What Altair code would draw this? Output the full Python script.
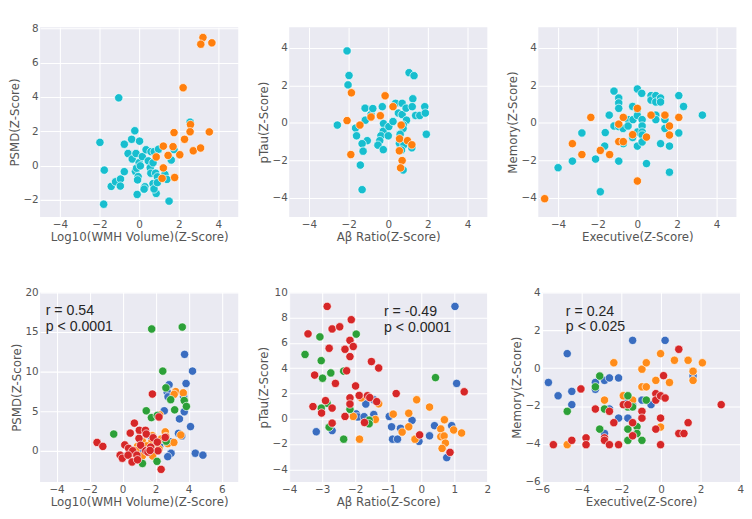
import altair as alt
import pandas as pd

# ---------------- Panel 1: Log10(WMH) vs PSMD ----------------
p1_cyan_x = [-1.03, -1.98, -1.76, -1.79, -1.41, -1.19, -0.94, -0.95, -0.75, -0.75, -0.56, -0.38, -0.35, -0.22,
             -0.16, -0.19, -0.13, 0.02, 0.0, 0.16, 0.06, -0.05, -0.08, -0.10, 0.29, 0.25, 0.35, 0.46, 0.56, 0.59,
             0.60, 0.70, 0.76, 0.83, 0.86, 0.70, 0.75, 0.92, 0.92, 0.98, 1.30, 1.40, 1.51, 1.62, 1.76, 2.57]
p1_cyan_y = [3.95, 1.35, -0.27, -2.26, -1.22, -0.95, -0.79, -1.20, 1.24, -0.36, 0.70, 1.53, 0.38, 2.03,
             0.70, -0.34, -0.16, 1.42, 0.16, 0.52, -0.02, -0.65, -0.84, -1.69, -1.24, -1.38, 0.92, 0.27, -0.13, -0.45,
             0.81, 0.16, 0.81, -0.45, -1.63, -1.06, -1.37, -0.66, -1.00, 0.95, -0.52, -0.81, -2.08, 0.32, 0.93, 2.53]
p1_orange_x = [3.22, 3.11, 3.67, 2.22, 1.76, 2.59, 2.57, 3.54, 2.29, 1.22, 1.71, 0.86, 1.46, 2.05, 2.73, 3.10,
               1.22, 1.79, 1.16]
p1_orange_y = [7.47, 7.08, 7.16, 4.54, 1.92, 2.39, 1.97, 1.96, 1.53, 1.13, 1.10, 0.50, 0.59, 0.63, 0.86, 1.02,
               -0.14, -0.70, -0.75]

# ---------------- Panel 2: Abeta vs pTau ----------------
p2_cyan_x = [-2.08, -1.98, -2.03, -2.57, -1.65, -1.60, -1.17, -1.16, -0.87, -0.78, -1.06, -1.32, -1.27, -1.41,
             -1.32, -0.30, -0.24, -0.25, -0.37, -0.43, -0.52, -0.25, 0.03, 0.00, 0.24, 0.37, 0.51, 0.70, 0.70,
             0.90, 0.92, 1.24, 1.21, 1.05, 1.30, 1.38, 1.59, 1.84, 1.87, 1.92, 0.76, 0.75, 0.60, 0.56, 0.79,
             0.67, 1.19, 0.75]
p2_cyan_y = [3.84, 2.53, 2.03, -0.11, -0.27, -0.68, 0.79, 0.15, 0.45, 0.77, -0.94, -1.10, -1.50, -2.24,
             -3.55, 0.87, -0.03, -0.44, -0.68, -0.94, -1.18, -1.42, -0.19, -0.68, 0.08, 1.05, 0.53, 1.05, 0.45,
             0.79, 0.15, 1.29, 0.87, 2.68, 2.52, 0.40, 0.40, 0.87, 0.53, -0.60, -0.11, -0.29, -0.60, -1.08, -1.16,
             -1.44, -1.32, -2.50]
p2_orange_x = [-1.86, -2.08, -1.43, -1.89, -0.87, -0.40, -0.16, 0.24, 0.65, 0.57, 0.56, 0.97, 1.19, 0.70, 0.62]
p2_orange_y = [1.61, 0.13, -0.11, -1.68, 0.32, 0.39, 1.45, 0.87, -0.11, -0.84, -1.48, -0.94, -1.16, -2.00, -2.39]

# ---------------- Panel 3: Executive vs Memory ----------------
p3_cyan_x = [-4.00, -3.28, -2.80, -2.11, -1.87, -1.65, -1.62, -1.42, -1.18, -1.18, -0.94, -0.94, -0.94, -0.94,
             -0.94, -0.72, -0.71, -0.47, -0.47, -0.24, -0.22, -0.24, 0.00, 0.00, 0.00, 0.00, 0.00, 0.22, 0.24,
             0.24, 0.24, 0.24, 0.24, 0.46, 0.69, 0.69, 0.93, 0.93, 0.93, 0.93, 1.17, 1.17, 1.17, 1.39, 1.39,
             1.62, 1.62, 2.09, 2.09, 2.33, 3.28]
p3_cyan_y = [-2.38, -2.03, -0.53, -1.92, -3.66, -1.23, -0.51, 0.42, 1.70, -0.16, 1.33, 1.07, 0.78, -0.19,
             -2.03, -0.29, -1.10, 0.18, -0.16, 0.88, 0.18, -0.77, 1.81, 0.72, 0.40, -0.48, -1.23, 1.58, 0.18,
             -0.16, -0.48, -0.64, -1.01, -2.16, 1.46, 1.22, 1.46, 1.12, 0.42, 0.18, 1.33, 1.12, -1.10, 0.18, -0.29,
             -1.23, -2.62, 1.46, -0.53, 0.88, 0.42]
p3_orange_x = [-4.68, -3.28, -2.80, -2.35, -1.87, -1.40, -0.94, -0.94, -0.71, -0.71, -0.24, 0.00, 0.00, 0.46,
               0.69, 1.39, 1.62, 1.62, 2.09]
p3_orange_y = [-4.03, -1.10, -1.68, 0.30, -1.46, -1.68, -0.06, -0.99, 0.30, -0.99, -0.62, 0.78, -3.09, -0.75,
               0.42, 0.42, -0.16, -0.64, 0.30]

# ---------------- Panel 4: Log10(WMH) vs PSMD, 4 groups ----------------
p4_blue_x = [3.75, 4.23, 2.81, 3.84, 2.70, 2.75, 3.69, 3.73, 2.52, 3.44, 4.11, 3.38, 3.58, 2.91, 2.24, 1.19,
             1.76, 2.93, 2.73, 4.40, 4.86, 0.52]
p4_blue_y = [12.19, 10.08, 8.36, 8.52, 7.42, 6.84, 6.91, 4.96, 5.08, 4.06, 3.09, 2.23, 1.91, 1.17, 0.59, 0.16,
             1.64, -0.27, -0.70, -0.27, -0.51, -0.12]
p4_orange_x = [3.21, 3.12, 3.67, 2.24, 2.58, 1.80, 2.62, 3.52, 2.33, 1.20, 1.76, 0.90, 1.47, 2.01, 2.73, 3.10,
               2.20, 1.19, 1.82, 0.46, 0.80]
p4_orange_y = [7.50, 7.15, 7.34, 4.57, 2.42, 1.95, 1.84, 2.03, 1.52, 1.21, 1.13, 0.59, 0.66, 0.74, 0.94, 1.09,
               0.27, -0.62, -0.62, -0.35, 0.08]
p4_green_x = [1.76, 3.61, 2.43, 2.62, 2.91, 3.73, 3.86, 3.15, 1.43, 1.74, 2.10, -0.54, 1.20, 2.08, 2.64]
p4_green_y = [15.39, 15.63, 10.08, 7.97, 6.48, 6.37, 5.63, 5.20, 5.08, 4.22, 4.49, 2.15, -1.56, -1.29, 1.25]
p4_red_x = [1.80, 2.20, 0.71, 1.01, 0.46, 1.38, 1.43, 0.99, 1.85, 2.58, -1.55, -1.20, 0.13, 0.36, 0.61, 1.09,
            1.40, 1.70, 2.10, 2.14, -0.15, -0.02, 0.33, 0.57, 0.86, 0.90, 1.53, 2.33, 1.66]
p4_red_y = [7.19, 4.30, 3.52, 2.62, 2.27, 2.62, 2.15, 1.60, 1.68, 1.72, 1.09, 0.59, 0.78, 0.35, 0.04, 0.74,
            0.04, 0.51, 1.13, 0.04, -0.51, -0.90, -0.51, -1.37, -0.51, -1.09, -0.12, -2.30, 0.08]

# ---------------- Panel 5: Abeta vs pTau, 4 groups ----------------
p5_blue_x = [-3.18, -2.70, -1.97, -1.92, -1.73, -1.68, -1.44, -1.44, -0.97, -0.90, -0.87, -0.72, -0.63, -0.28,
             -0.07, 0.25, 0.40, 0.92, 0.77, 1.02, 1.07]
p5_blue_y = [-1.02, -0.93, 0.39, 0.15, 0.17, 1.17, 1.51, 0.34, 0.19, -0.63, -1.61, -1.61, -0.75, -0.12,
             -1.78, -1.34, -0.54, -0.54, -3.07, 8.89, 2.80]
p5_orange_x = [-1.82, -1.29, -1.39, -1.87, -2.06, -0.85, -0.38, -0.14, 0.25, -0.38, -0.58, -0.19, 0.70, 0.59,
               0.98, 1.22, 0.59, 0.69, 0.73, 0.63]
p5_orange_y = [1.66, 1.19, -0.05, -1.61, 0.19, 0.37, 0.44, 1.51, 0.93, -0.63, -1.05, -1.61, -0.07, -0.80,
               -0.88, -1.12, -1.41, -1.36, -1.92, -2.34]
p5_green_x = [-3.52, -3.07, -1.97, -3.03, -2.74, -2.99, -2.35, -2.85, -3.03, -2.16, -2.79, -2.35, -1.58, -1.58,
              0.43]
p5_green_y = [5.09, 6.48, 6.70, 4.60, 3.63, 3.21, 3.77, 1.22, 0.85, 0.75, -0.66, -1.61, -0.10, -0.39, 3.26]
p5_red_x = [-2.85, -3.43, -2.70, -2.47, -2.12, -2.79, -2.31, -2.16, -2.06, -2.16, -1.51, -1.29, -3.23, -2.26,
            -2.60, -1.99, -2.16, -2.16, -2.90, -3.28, -3.02, -2.70, -2.70, -2.31, -1.88, -1.63, -1.56, -1.72,
            -1.35, -0.76, -0.05, 0.87, 1.30]
p5_red_y = [8.89, 6.72, 7.11, 7.28, 7.84, 5.58, 5.50, 6.21, 5.72, 4.92, 4.53, 4.02, 3.46, 3.80,
            2.80, 2.60, 1.66, 1.17, 1.44, 0.97, 0.46, 0.85, -0.34, 0.19, 1.85, 1.83, 1.68, -0.29,
            1.36, 2.00, -1.27, -2.65, 2.14]

# ---------------- Panel 6: Executive vs Memory, 4 groups ----------------
p6_blue_x = [-5.68, -5.19, -4.73, -4.50, -4.50, -3.31, -3.31, -2.85, -2.60, -2.14, -2.60, -2.14, -2.85, -1.43,
             -1.67, -1.43, -1.67, -0.96, -0.50, 0.21, 1.62]
p6_blue_y = [-0.75, -1.45, 0.77, -1.22, -1.92, -0.75, -1.11, -0.64, -0.51, -0.51, -2.15, -2.63, -3.44, 1.47,
             -1.68, -1.92, -2.63, -1.68, -1.92, 1.47, -0.41]
p6_orange_x = [-2.38, -2.85, -4.73, -1.90, -1.43, -0.96, -0.74, -0.96, -0.74, -0.26, -0.02, 0.43, 0.68, 1.37,
               1.62, 1.62, 2.09, -0.02]
p6_orange_y = [0.29, -1.68, -4.03, -1.45, -1.68, -0.05, 0.29, -0.98, -0.98, -0.64, 0.77, -0.75, 0.42, 0.42,
               -0.16, -0.64, 0.29, -3.10]
p6_green_x = [-4.73, -3.31, -3.09, -2.85, -3.09, -1.67, -1.67, -1.43, -1.67, -1.21, -1.21, -1.67, -0.96, -0.74]
p6_green_y = [-2.27, -0.98, -0.41, -2.15, -3.21, -1.45, -2.04, -2.04, -3.21, -3.08, -3.44, -3.80, -3.80, -1.68]
p6_red_x = [-5.43, -4.50, -4.04, -3.78, -3.78, -3.31, -2.85, -2.85, -2.60, -2.60, -2.38, -2.14, -1.90, -1.67,
            -1.43, -1.43, -0.96, -0.96, -0.26, -0.26, -0.26, -0.02, -0.02, -0.02, 0.21, 0.13, 0.90, 0.90,
            1.16, 1.37, 3.04]
p6_red_y = [-4.03, -3.80, -1.09, -3.67, -4.03, -2.15, -3.67, -3.80, -2.27, -4.03, -2.87, -4.03, -1.92, -1.92,
            -2.87, -3.56, -2.27, -2.63, -1.34, -1.68, -3.21, -1.45, -2.63, -4.03, -1.57, -0.39, 1.00, -3.44,
            -3.44, -2.87, -1.92]

# annotation texts
ann_texts = [["r = 0.54", "p < 0.0001"], ["r = -0.49", "p < 0.0001"], ["r = 0.24", "p < 0.025"]]
ann_x = [-4.66, -1.13, -4.8]
ann_y = [[17.7, 15.7], [8.53, 7.28], [3.02, 2.2]]

CYAN, ORANGE = "#17becf", "#ff7f0e"
BLUE, ORG2, GREEN, RED = "#3a6dc0", "#ff8c1a", "#2ca038", "#d62728"


def frame(groups):
    rows = []
    for name, xs, ys in groups:
        for x, y in zip(xs, ys):
            rows.append({"x": x, "y": y, "g": name})
    return pd.DataFrame(rows)


FONT = "DejaVu Sans"
W, H = 210, 201


def panel(df, xtitle, ytitle, xdom, ydom, xvals, yvals, dom, rng, ann=None):
    xenc = alt.X("x:Q", title=xtitle,
                 scale=alt.Scale(domain=xdom, nice=False, zero=False),
                 axis=alt.Axis(values=xvals, labelOverlap=False))
    yenc = alt.Y("y:Q", title=ytitle,
                 scale=alt.Scale(domain=ydom, nice=False, zero=False),
                 axis=alt.Axis(values=yvals, labelOverlap=False))
    base = alt.Chart(df).mark_circle(size=78, opacity=1, stroke="white", strokeWidth=0.7, clip=True).encode(
        x=xenc, y=yenc,
        color=alt.Color("g:N", scale=alt.Scale(domain=dom, range=rng), legend=None),
    ).properties(width=W, height=H)
    if ann is None:
        return base
    tdf = pd.DataFrame({"x": [ann[0], ann[0]], "y": ann[1], "t": ann[2]})
    txt = alt.Chart(tdf).mark_text(align="left", baseline="middle", fontSize=15,
                                   font="Liberation Sans", color="#262626").encode(
        x=xenc, y=yenc, text="t:N")
    return alt.layer(base, txt)


top_dom = ["a", "b"]
top_rng = [CYAN, ORANGE]
bot_dom = ["blue", "orange", "green", "red"]
bot_rng = [BLUE, ORG2, GREEN, RED]

c1 = panel(frame([("a", p1_cyan_x, p1_cyan_y), ("b", p1_orange_x, p1_orange_y)]),
           "Log10(WMH Volume)(Z-Score)", "PSMD(Z-Score)", [-5, 5], [-3, 8.07],
           [-4, -2, 0, 2, 4], [-2, 0, 2, 4, 6, 8], top_dom, top_rng)
c2 = panel(frame([("a", p2_cyan_x, p2_cyan_y), ("b", p2_orange_x, p2_orange_y)]),
           "Aβ Ratio(Z-Score)", "pTau(Z-Score)", [-5, 5], [-5, 5.1],
           [-4, -2, 0, 2, 4], [-4, -2, 0, 2, 4], top_dom, top_rng)
c3 = panel(frame([("a", p3_cyan_x, p3_cyan_y), ("b", p3_orange_x, p3_orange_y)]),
           "Executive(Z-Score)", "Memory(Z-Score)", [-5, 5], [-5, 5.1],
           [-4, -2, 0, 2, 4], [-4, -2, 0, 2, 4], top_dom, top_rng)

c4 = panel(frame([("blue", p4_blue_x, p4_blue_y), ("orange", p4_orange_x, p4_orange_y),
                  ("green", p4_green_x, p4_green_y), ("red", p4_red_x, p4_red_y)]),
           "Log10(WMH Volume)(Z-Score)", "PSMD(Z-Score)", [-5, 7], [-3.9, 20],
           [-4, -2, 0, 2, 4, 6], [0, 5, 10, 15, 20], bot_dom, bot_rng,
           ann=(ann_x[0], ann_y[0], ann_texts[0]))
c5 = panel(frame([("blue", p5_blue_x, p5_blue_y), ("orange", p5_orange_x, p5_orange_y),
                  ("green", p5_green_x, p5_green_y), ("red", p5_red_x, p5_red_y)]),
           "Aβ Ratio(Z-Score)", "pTau(Z-Score)", [-4, 2], [-5, 10],
           [-4, -3, -2, -1, 0, 1, 2], [-4, -2, 0, 2, 4, 6, 8, 10], bot_dom, bot_rng,
           ann=(ann_x[1], ann_y[1], ann_texts[1]))
c6 = panel(frame([("blue", p6_blue_x, p6_blue_y), ("orange", p6_orange_x, p6_orange_y),
                  ("green", p6_green_x, p6_green_y), ("red", p6_red_x, p6_red_y)]),
           "Executive(Z-Score)", "Memory(Z-Score)", [-6, 4], [-6, 4],
           [-6, -4, -2, 0, 2, 4], [-6, -4, -2, 0, 2, 4], bot_dom, bot_rng,
           ann=(ann_x[2], ann_y[2], ann_texts[2]))

chart = alt.vconcat(
    alt.hconcat(c1, c2, c3, spacing=20),
    alt.hconcat(c4, c5, c6, spacing=20),
    spacing=46,
).resolve_scale(color="independent").properties(padding=0).configure_view(
    fill="#EAEAF2", strokeWidth=0
).configure_axis(
    domain=False, ticks=False, grid=True, gridColor="white", gridWidth=1.1, gridOpacity=1,
    labelFont=FONT, labelFontSize=11, labelColor="#555555", labelPadding=2, labelOverlap=False,
    labelBound=False, labelFlush=False,
    titleFont=FONT, titleFontSize=12.5, titleColor="#555555", titleFontWeight="normal", titlePadding=2,
)

chart.save("out.html", embed_options={"renderer": "svg", "actions": False})
